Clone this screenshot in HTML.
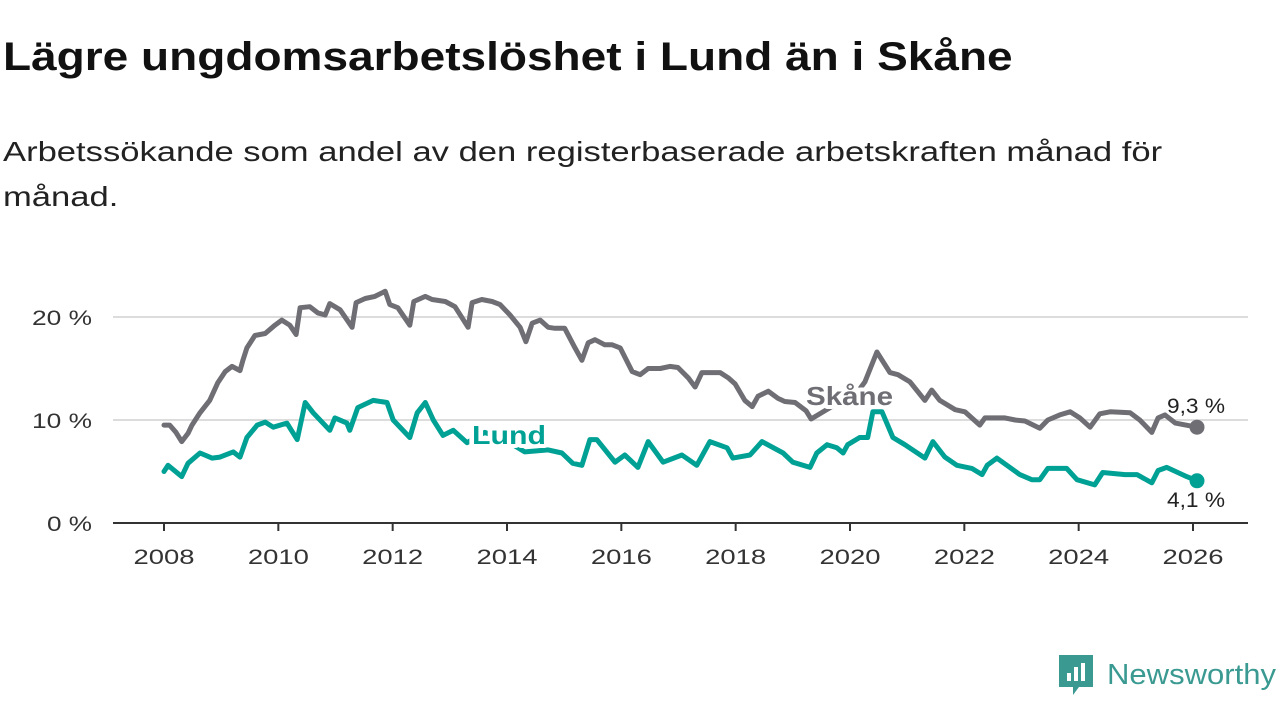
<!DOCTYPE html>
<html><head><meta charset="utf-8"><style>
body{margin:0;width:1280px;height:720px;background:#fff;overflow:hidden;font-family:"Liberation Sans",sans-serif}
h1{position:absolute;left:3px;top:35px;margin:0;font-size:40px;font-weight:bold;color:#111;white-space:nowrap;transform:scaleX(1.15);transform-origin:0 0}
p{position:absolute;left:3px;top:129px;margin:0;font-size:28px;line-height:45px;color:#222;white-space:nowrap;transform:scaleX(1.235);transform-origin:0 0}
svg{position:absolute;left:0;top:0}
</style></head><body>
<h1>Lägre ungdomsarbetslöshet i Lund än i Skåne</h1>
<p>Arbetssökande som andel av den registerbaserade arbetskraften månad för<br>månad.</p>
<svg id="chart" width="1280" height="720"></svg>
<script>
const skaneYears=[2008.00,2008.10,2008.21,2008.31,2008.42,2008.49,2008.63,2008.80,2008.94,2009.07,2009.19,2009.33,2009.38,2009.45,2009.59,2009.77,2009.94,2010.06,2010.20,2010.31,2010.38,2010.55,2010.69,2010.82,2010.90,2011.08,2011.29,2011.36,2011.52,2011.69,2011.87,2011.95,2012.09,2012.30,2012.37,2012.57,2012.69,2012.92,2013.09,2013.32,2013.39,2013.56,2013.74,2013.88,2014.05,2014.23,2014.33,2014.44,2014.58,2014.72,2014.84,2015.01,2015.19,2015.31,2015.42,2015.54,2015.71,2015.84,2015.98,2016.19,2016.33,2016.47,2016.68,2016.85,2016.99,2017.17,2017.29,2017.41,2017.73,2017.87,2017.99,2018.16,2018.29,2018.39,2018.57,2018.74,2018.86,2019.04,2019.23,2019.32,2019.74,2020.09,2020.26,2020.47,2020.70,2020.84,2021.05,2021.31,2021.43,2021.57,2021.84,2022.01,2022.27,2022.36,2022.71,2022.89,2023.06,2023.32,2023.46,2023.67,2023.85,2024.02,2024.20,2024.37,2024.55,2024.90,2025.07,2025.28,2025.39,2025.51,2025.69,2026.07];
const skaneValues=[9.5,9.5,8.8,7.9,8.7,9.5,10.7,11.9,13.6,14.7,15.2,14.8,15.8,17.0,18.2,18.4,19.2,19.7,19.2,18.3,20.9,21.0,20.4,20.2,21.3,20.7,19.0,21.4,21.8,22.0,22.5,21.2,20.9,19.2,21.5,22.0,21.7,21.5,21.0,19.0,21.4,21.7,21.5,21.2,20.2,19.0,17.6,19.4,19.7,19.0,18.9,18.9,17.0,15.8,17.5,17.8,17.3,17.3,17.0,14.7,14.4,15.0,15.0,15.2,15.1,14.1,13.2,14.6,14.6,14.1,13.5,11.9,11.3,12.3,12.8,12.1,11.8,11.7,10.9,10.1,11.5,12.4,13.7,16.6,14.6,14.4,13.7,11.9,12.9,11.9,11.0,10.8,9.5,10.2,10.2,10.0,9.9,9.2,10.0,10.5,10.8,10.2,9.3,10.6,10.8,10.7,10.0,8.8,10.2,10.5,9.7,9.3];
const lundYears=[2008.00,2008.07,2008.31,2008.42,2008.63,2008.84,2008.98,2009.21,2009.33,2009.45,2009.63,2009.77,2009.91,2010.15,2010.33,2010.47,2010.61,2010.90,2010.99,2011.20,2011.25,2011.39,2011.66,2011.90,2012.01,2012.30,2012.43,2012.57,2012.71,2012.88,2013.06,2013.30,2013.61,2013.96,2014.31,2014.72,2014.96,2015.15,2015.31,2015.45,2015.57,2015.89,2016.06,2016.29,2016.47,2016.73,2017.06,2017.32,2017.55,2017.85,2017.95,2018.25,2018.46,2018.83,2019.00,2019.30,2019.42,2019.60,2019.77,2019.88,2019.96,2020.17,2020.31,2020.40,2020.56,2020.75,2020.96,2021.31,2021.45,2021.66,2021.87,2022.13,2022.31,2022.40,2022.57,2022.97,2023.18,2023.32,2023.46,2023.79,2023.97,2024.28,2024.42,2024.81,2025.02,2025.28,2025.39,2025.54,2025.89,2026.07];
const lundValues=[5.0,5.6,4.5,5.8,6.8,6.3,6.4,6.9,6.4,8.3,9.5,9.8,9.3,9.7,8.1,11.7,10.7,9.0,10.2,9.7,9.0,11.2,11.9,11.7,10.0,8.3,10.7,11.7,10.0,8.5,9.0,7.8,8.8,8.1,6.9,7.1,6.8,5.8,5.6,8.1,8.1,5.9,6.6,5.4,7.9,5.9,6.6,5.6,7.9,7.3,6.3,6.6,7.9,6.8,5.9,5.4,6.8,7.6,7.3,6.8,7.6,8.3,8.3,10.8,10.8,8.3,7.6,6.3,7.9,6.4,5.6,5.3,4.7,5.6,6.3,4.7,4.2,4.2,5.3,5.3,4.2,3.7,4.9,4.7,4.7,3.9,5.1,5.4,4.5,4.1];
const yTicks=[0,10,20];
const yTickLabels=["0 %","10 %","20 %"];
const xTicks=[2008,2010,2012,2014,2016,2018,2020,2022,2024,2026];

const NS="http://www.w3.org/2000/svg";
const svg=document.getElementById('chart');
const xS=y=>164+(y-2008)*(1193-164)/18;
const yS=v=>523-v*10.3;
function mk(tag,attrs,parent){const e=document.createElementNS(NS,tag);for(const k in attrs)e.setAttribute(k,attrs[k]);(parent||svg).appendChild(e);return e;}

yTicks.forEach((t,i)=>{
  if(t>0){const g=mk('line',{x1:113,x2:1248,y1:yS(t),y2:yS(t),stroke:'#dcdcdc','stroke-width':2});
  
  }
  const tx=mk('text',{x:92,y:yS(t)+8,'text-anchor':'end','font-size':21,fill:'#333','font-family':'Liberation Sans, sans-serif',textLength:yTickLabels[i].length*15,lengthAdjust:'spacingAndGlyphs'});
  tx.textContent=yTickLabels[i];
  
  
});
const ax=mk('line',{x1:113,x2:1248,y1:523,y2:523,stroke:'#333','stroke-width':2});


xTicks.forEach(t=>{
  const tk=mk('line',{x1:xS(t),x2:xS(t),y1:523,y2:531,stroke:'#333','stroke-width':2});
  
  
  const tx=mk('text',{x:xS(t),y:564,'text-anchor':'middle','font-size':21,fill:'#333','font-family':'Liberation Sans, sans-serif',textLength:61,lengthAdjust:'spacingAndGlyphs'});
  tx.textContent=t;
  
  
});
function series(xs,vs,color,name){
  const d=xs.map((x,i)=>(i?'L':'M')+xS(x).toFixed(1)+','+yS(vs[i]).toFixed(1)).join('');
  const p=mk('path',{d:d,fill:'none',stroke:color,'stroke-width':5,'stroke-linejoin':'round','stroke-linecap':'round'});
  
  
  const n=xs.length-1;
  const c=mk('circle',{cx:xS(xs[n]),cy:yS(vs[n]),r:7.5,fill:color});
  
  
}
series(skaneYears,skaneValues,'#6f6e74','skane');
series(lundYears,lundValues,'#00a195','lund');
function label(txt,x,y,color,bold,name,anchor,len){
  const t=mk('text',{x:x,y:y,'font-size':bold?26:21,'font-weight':bold?'bold':'normal',fill:color,stroke:'#fff','stroke-width':bold?8:5,'paint-order':'stroke','stroke-linejoin':'round','text-anchor':anchor||'start','font-family':'Liberation Sans, sans-serif',textLength:len,lengthAdjust:'spacingAndGlyphs'});
  t.textContent=txt;
  
  
}
label('Skåne',806,405,'#6f6e74',true,'skane-label','start',87);
label('Lund',472,444,'#00a195',true,'lund-label','start',74);
label('9,3 %',1196,413,'#222',false,'skane-end-value','middle',58);
label('4,1 %',1196,507,'#222',false,'lund-end-value','middle',58);
</script>
<div style="position:absolute;left:1059px;top:655px;display:flex;align-items:center">
<svg width="34" height="40" viewBox="0 0 34 40" style="position:static"><path d="M0 0H34V32H20L14 40V32H0Z" fill="#3a9a92"/><rect x="8" y="18" width="4" height="8" fill="#fff"/><rect x="15" y="12" width="4" height="14" fill="#fff"/><rect x="22" y="8" width="4" height="18" fill="#fff"/></svg>
<span style="margin-left:14px;font-size:29px;color:#3a9a92;display:inline-block;transform:scaleX(1.07);transform-origin:0 50%">Newsworthy</span></div>
</body></html>
